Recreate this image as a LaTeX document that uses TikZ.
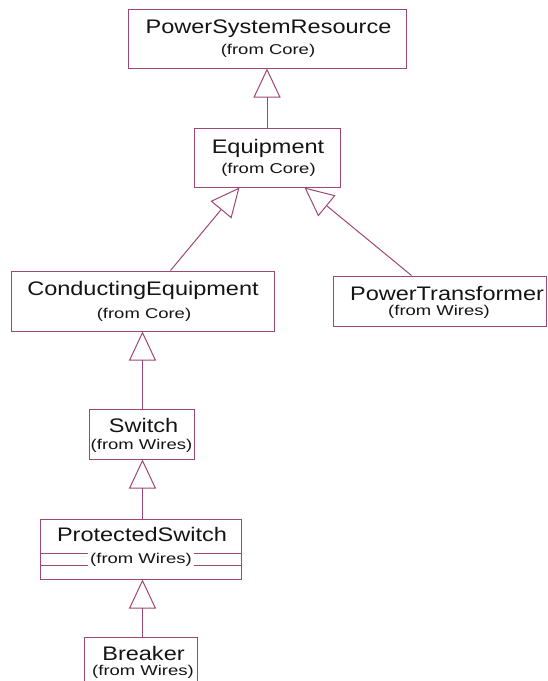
\documentclass[tikz,border=0pt]{standalone}
\usepackage{fontspec}
\setmainfont{Liberation Sans}
\newfontfamily\nmfont[FakeStretch=1.2]{Liberation Sans}
\newfontfamily\sbfont[FakeStretch=1.3]{Liberation Sans}
\usetikzlibrary{arrows.meta}
\definecolor{umlc}{RGB}{160,70,115}
\definecolor{txtc}{RGB}{20,20,20}
\begin{document}
\begin{tikzpicture}[x=1pt,y=-1pt,
  cls/.style={draw=umlc, line width=1pt, rectangle, inner sep=0pt},
  nm/.style={anchor=base, inner sep=0pt, text=txtc, font=\nmfont\fontsize{19.6}{22}\selectfont},
  sb/.style={anchor=base, inner sep=0pt, text=txtc, font=\sbfont\fontsize{14.2}{16}\selectfont},
  gen/.style={draw=umlc, line width=1pt, -{Triangle[open, length=29pt 0, width=27pt 0]}}]
\useasboundingbox (0,0) rectangle (547,681);
\clip (0,0) rectangle (547,681);

% class boxes
\node[cls, minimum width=278pt, minimum height=59pt] (psr) at (267,38.5) {};
\node[cls, minimum width=146pt, minimum height=59pt] (eq) at (267,157.5) {};
\node[cls, minimum width=263pt, minimum height=60pt] (ce) at (142.5,301) {};
\node[cls, minimum width=213.5pt, minimum height=50pt] (pt) at (439.75,301) {};
\node[cls, minimum width=105pt, minimum height=50pt] (sw) at (141.5,434) {};
\node[cls, minimum width=201pt, minimum height=60pt] (ps) at (140.5,549) {};
\node[cls, minimum width=113pt, minimum height=63pt] (bk) at (140.5,668.5) {};

% compartment lines of ProtectedSwitch
\draw[umlc, line width=1pt] (ps.west |- 0,553) -- (ps.east |- 0,553);
\draw[umlc, line width=1pt] (ps.west |- 0,565) -- (ps.east |- 0,565);

% texts
\node[nm] (psrN) at (268.5,33) {PowerSystemResource};
\node[sb] (psrS) at (268,54.5) {(from Core)};
\node[nm] (eqN) at (268,153.3) {Equipment};
\node[sb] (eqS) at (268.5,173.5) {(from Core)};
\node[nm] (ceN) at (143,295.7) {ConductingEquipment};
\node[sb] (ceS) at (144,318) {(from Core)};
\node[nm] (ptN) at (447,300) {PowerTransformer};
\node[sb] (ptS) at (439,315) {(from Wires)};
\node[nm] (swN) at (143.5,432.7) {Switch};
\node[sb] (swS) at (141.5,449) {(from Wires)};
\node[nm] (psN) at (142,541.7) {ProtectedSwitch};
\node[sb, fill=white, inner xsep=2pt, inner ysep=1.5pt] (psS) at (141,563.3) {(from Wires)};
\node[nm] (bkN) at (143.5,660.7) {Breaker};
\node[sb] (bkS) at (143,675) {(from Wires)};

% generalizations
\draw[gen] (eq.north) -- (psr.south);
\draw[gen] ([xshift=160pt]ce.north west) -- ([xshift=46pt]eq.south west);
\draw[gen] ([xshift=79pt]pt.north west) -- ([xshift=111pt]eq.south west);
\draw[gen] (ce.south |- sw.north) -- (ce.south);
\draw[gen] (ce.south |- ps.north) -- (ce.south |- sw.south);
\draw[gen] (ce.south |- bk.north) -- (ce.south |- ps.south);
\end{tikzpicture}
\end{document}
